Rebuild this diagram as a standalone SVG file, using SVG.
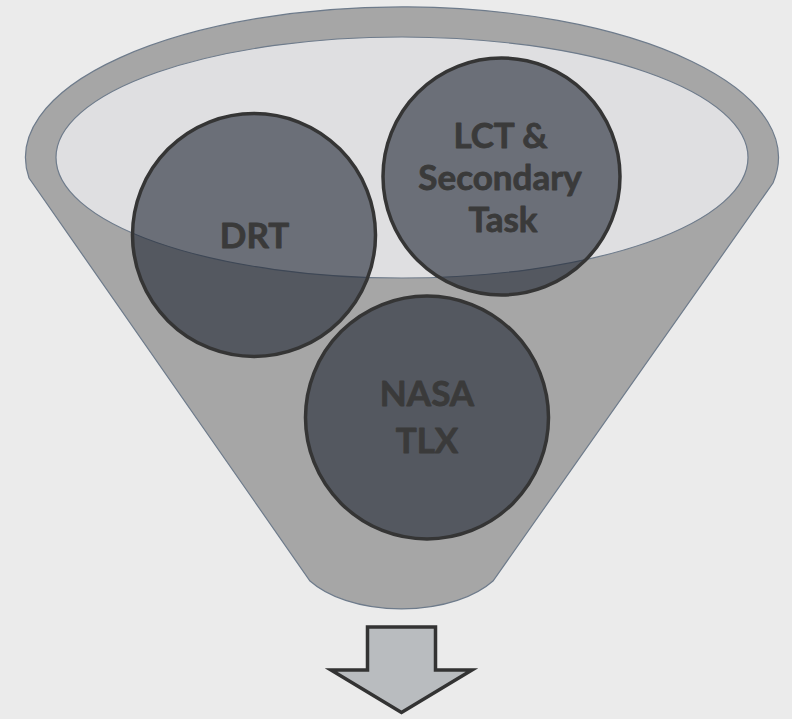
<svg xmlns="http://www.w3.org/2000/svg" width="792" height="719" viewBox="0 0 792 719">
  <style>
    .funnel { fill: #a6a6a6; stroke: #6e7b8b; stroke-width: 1.2; }
    .rim { fill: #dfdfe1; stroke: #6e7b8b; stroke-width: 1.2; }
    .ball { fill: #1e2532; fill-opacity: 0.6; stroke: #353535; stroke-width: 3.5; }
    .label { font-family: Lato, "Open Sans", "Liberation Sans", sans-serif; font-weight: 700; font-size: 35px; fill: #3a3a3a; stroke: #3a3a3a; stroke-width: 0.8; stroke-linejoin: round; text-anchor: middle; }
    .arrow { fill: #b9bcbf; stroke: #333333; stroke-width: 3.5; stroke-linejoin: miter; }
  </style>
  <rect width="792" height="719" fill="#ebebeb"/>

  <!-- funnel body: open top ellipse, tapered sides, rounded spout -->
  <g id="funnel">
    <path class="funnel" d="M29,178 A376.5,150.5 0 1 1 773,183 L493,581 A107,58 0 0 1 310,581 Z"/>
    <ellipse class="rim" cx="402" cy="157.5" rx="346" ry="120.5"/>
  </g>

  <g id="drt">
    <circle class="ball" cx="254" cy="235" r="121.5"/>
    <text class="label" x="254.5" y="247.5">DRT</text>
  </g>

  <g id="lct">
    <circle class="ball" cx="501.5" cy="176.5" r="118.5"/>
    <text class="label" x="500.5" y="147.5">LCT &amp;</text>
    <text class="label" x="500" y="190">Secondary</text>
    <text class="label" x="503" y="231.5">Task</text>
  </g>

  <g id="nasa">
    <circle class="ball" cx="427" cy="417.5" r="121.5"/>
    <text class="label" x="427" y="406">NASA</text>
    <text class="label" x="427" y="452.5">TLX</text>
  </g>

  <!-- output arrow below the spout -->
  <g id="connectors">
    <path class="arrow" d="M367.5,627 L435.5,627 L435.5,670 L472,670 L401.5,712.5 L331,670 L367.5,670 Z"/>
  </g>
</svg>
